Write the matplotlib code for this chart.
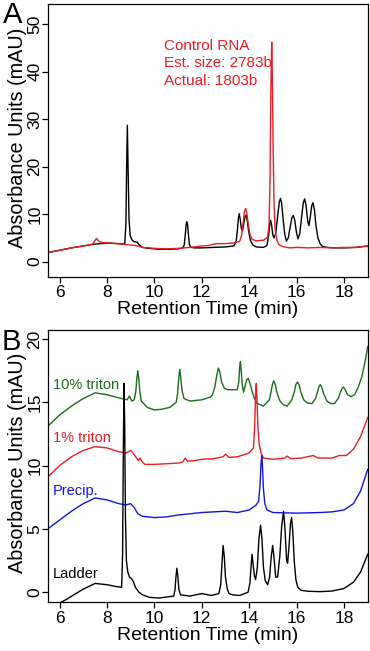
import matplotlib
matplotlib.use("Agg")
import matplotlib.pyplot as plt

plt.rcParams['font.family'] = ['Liberation Sans', 'DejaVu Sans']

# ---------------- Panel A data (retention time min, absorbance mAU) ----------
a_black_t = [5.5, 6.0, 6.5, 7.0, 7.5, 8.0, 8.5, 8.75, 8.80, 8.83, 8.86, 8.89, 8.93, 8.98,
             9.05, 9.15, 9.28, 9.35, 9.5, 9.8, 10.2, 10.6, 11.0, 11.2, 11.26, 11.31, 11.34,
             11.37, 11.40, 11.43, 11.48, 11.55, 11.7, 12.0, 12.5, 13.0, 13.35, 13.45, 13.5,
             13.55, 13.58, 13.62, 13.67, 13.71, 13.76, 13.82, 13.87, 13.92, 13.98, 14.05,
             14.15, 14.3, 14.6, 14.75, 14.82, 14.87, 14.91, 14.95, 15.0, 15.05, 15.12, 15.2,
             15.27, 15.32, 15.37, 15.43, 15.5, 15.57, 15.65, 15.73, 15.8, 15.86, 15.92, 15.99,
             16.06, 16.13, 16.2, 16.28, 16.34, 16.4, 16.47, 16.52, 16.58, 16.64, 16.69, 16.75,
             16.82, 16.9, 17.0, 17.1, 17.3, 17.6, 18.0, 18.5, 19.0]
a_black_v = [1.9, 2.4, 2.9, 3.3, 3.7, 3.9, 3.8, 3.7, 8.0, 20.0, 28.7, 20.0, 9.0, 5.5,
             4.6, 4.2, 4.1, 3.6, 3.0, 2.8, 2.6, 2.6, 2.7, 2.9, 3.5, 6.0, 7.8,
             8.4, 7.8, 6.0, 3.6, 3.0, 2.9, 2.9, 3.0, 3.1, 3.3, 4.2, 6.5,
             9.3, 10.1, 9.0, 7.0, 6.4, 7.6, 9.4, 9.8, 8.6, 6.3, 4.5,
             3.5, 3.1, 3.0, 3.4, 5.5, 8.0, 8.7, 7.5, 5.6, 5.0, 6.0, 9.5,
             12.5, 13.3, 12.3, 9.0, 5.8, 4.3, 5.0, 7.3, 9.2, 9.7, 8.8, 6.3,
             4.8, 5.8, 8.8, 12.3, 13.2, 11.8, 8.5, 7.6, 9.5, 11.8, 12.4, 11.0,
             7.5, 5.0, 3.7, 3.2, 3.0, 2.9, 2.9, 3.0, 3.3]

a_red_t = [5.5, 6.0, 6.5, 7.0, 7.4, 7.5, 7.56, 7.65, 7.8, 8.2, 8.6, 8.8, 9.2, 9.5, 10.0,
           10.5, 11.0, 11.5, 12.0, 12.3, 12.6, 13.0, 13.3, 13.6, 13.68, 13.74, 13.8, 13.85,
           13.9, 13.96, 14.03, 14.12, 14.3, 14.6, 14.78, 14.84, 14.88, 14.91, 14.95, 14.98,
           15.01, 15.05, 15.1, 15.17, 15.25, 15.4, 15.7, 16.0, 16.5, 17.0, 17.5, 18.0, 18.5, 19.0]
a_red_v = [1.9, 2.4, 2.9, 3.3, 3.7, 4.5, 4.9, 4.3, 4.0, 3.9, 3.7, 3.6, 3.4, 3.0, 2.8,
           2.7, 2.8, 3.0, 3.3, 3.4, 3.8, 3.8, 3.9, 4.3, 5.5, 8.0, 10.5, 11.2,
           10.3, 8.0, 5.8, 4.7, 4.4, 4.5, 5.2, 8.0, 18.0, 34.0, 46.2, 38.0,
           24.0, 12.0, 6.5, 4.5, 3.6, 3.2, 2.9, 3.0, 2.9, 3.0, 2.9, 3.0, 3.0, 3.3]

a_text = ["Control RNA", "Est. size: 2783b", "Actual: 1803b"]

# ---------------- Panel B data ------------------------------------------------
ladder_t = [6.05, 6.3, 6.6, 7.0, 7.5, 8.0, 8.4, 8.62, 8.66, 8.69, 8.72, 8.75, 8.78, 8.82,
            8.88, 8.95, 9.02, 9.1, 9.2, 9.35, 9.5, 9.8, 10.2, 10.6, 10.82, 10.87, 10.91,
            10.95, 10.99, 11.03, 11.1, 11.5, 12.0, 12.4, 12.72, 12.8, 12.85, 12.9, 12.95,
            13.0, 13.07, 13.15, 13.3, 13.6, 13.95, 14.03, 14.08, 14.12, 14.16, 14.22, 14.27,
            14.34, 14.41, 14.48, 14.54, 14.6, 14.68, 14.78, 14.86, 14.93, 14.99, 15.05, 15.12,
            15.2, 15.29, 15.37, 15.45, 15.51, 15.58, 15.62, 15.68, 15.74, 15.79, 15.84, 15.9,
            15.97, 16.05, 16.2, 16.5, 17.0, 17.5, 18.0, 18.4, 18.7, 19.0]
ladder_v = [-0.8, -0.55, -0.2, 0.25, 0.7, 0.6, 0.45, 0.4, 3.0, 11.0, 16.5, 13.0, 6.0, 2.5,
            1.6, 1.2, 1.1, 0.9, 0.4, 0.0, -0.2, -0.4, -0.45, -0.35, -0.3, 0.2, 1.2,
            1.9, 1.3, 0.3, -0.2, -0.3, -0.1, -0.25, -0.1, 0.6, 2.2, 3.7, 2.8,
            1.2, 0.3, -0.1, -0.2, -0.25, 0.0, 0.7, 2.0, 3.0, 2.3, 1.3, 1.0,
            1.9, 4.2, 5.3, 4.2, 2.0, 0.9, 0.6, 1.2, 2.8, 3.7, 2.7, 1.2,
            1.2, 2.8, 5.2, 6.4, 5.0, 2.5, 2.3, 3.6, 5.4, 5.9, 4.8, 2.5,
            1.0, 0.4, 0.15, 0.08, 0.05, 0.1, 0.3, 0.8, 1.6, 3.0]

precip_t = [5.5, 6.0, 6.5, 7.0, 7.5, 8.0, 8.5, 8.8, 9.0, 9.15, 9.3, 9.5, 10.0, 10.5, 11.0,
            11.5, 12.0, 13.0, 13.5, 14.0, 14.3, 14.4, 14.46, 14.5, 14.53, 14.56, 14.6,
            14.66, 14.75, 15.0, 16.0, 17.0, 17.5, 18.0, 18.4, 18.7, 19.0]
precip_v = [5.0, 5.7, 6.4, 7.0, 7.45, 7.3, 7.0, 6.9, 7.0, 6.7, 6.2, 6.0, 5.9, 5.95, 6.1,
            6.2, 6.3, 6.4, 6.3, 6.5, 6.9, 7.2, 8.5, 10.2, 10.8, 10.0, 8.2,
            7.0, 6.5, 6.3, 6.25, 6.3, 6.35, 6.5, 7.0, 8.0, 9.7]

triton1_t = [5.5, 6.0, 6.5, 7.0, 7.5, 8.0, 8.5, 8.8, 9.0, 9.1, 9.25, 9.32, 9.4, 9.48, 9.6,
             10.0, 10.5, 11.0, 11.2, 11.3, 11.4, 11.7, 12.0, 12.5, 12.9, 13.0, 13.15, 13.5,
             14.0, 14.18, 14.23, 14.27, 14.3, 14.33, 14.37, 14.42, 14.5, 14.6, 15.0, 15.5,
             15.6, 15.75, 16.2, 16.7, 16.9, 17.5, 17.8, 18.1, 18.4, 18.7, 19.0]
triton1_v = [9.1, 10.0, 10.7, 11.2, 11.5, 11.4, 11.1, 11.0, 11.2, 11.0, 10.6, 10.4, 10.6, 10.3, 10.1,
             10.1, 10.15, 10.2, 10.3, 10.6, 10.35, 10.4, 10.5, 10.55, 10.7, 10.9, 10.65, 10.7,
             11.0, 11.4, 13.0, 15.6, 16.5, 15.2, 13.0, 11.7, 11.0, 10.6, 10.5, 10.6,
             10.75, 10.55, 10.6, 10.8, 10.6, 10.6, 10.8, 10.8, 11.3, 12.3, 13.8]

triton10_t = [5.5, 6.0, 6.5, 7.0, 7.5, 8.0, 8.5, 8.85, 8.95, 9.05, 9.15, 9.22, 9.26, 9.3,
              9.34, 9.39, 9.45, 9.7, 10.0, 10.3, 10.65, 10.92, 10.98, 11.03, 11.07, 11.11,
              11.17, 11.25, 11.5, 12.0, 12.35, 12.45, 12.55, 12.63, 12.7, 12.76, 12.84, 12.95,
              13.1, 13.4, 13.5, 13.56, 13.6, 13.63, 13.66, 13.7, 13.76, 13.83, 13.9, 13.96,
              14.03, 14.12, 14.22, 14.35, 14.6, 14.85, 14.93, 14.99, 15.04, 15.1, 15.18, 15.3,
              15.45, 15.6, 15.8, 15.9, 15.97, 16.04, 16.1, 16.18, 16.3, 16.45, 16.65, 16.8,
              16.88, 16.94, 17.0, 17.06, 17.14, 17.28, 17.45, 17.6, 17.75, 17.85, 17.92, 17.98,
              18.05, 18.15, 18.3, 18.45, 18.6, 18.75, 18.9, 19.0]
triton10_v = [13.1, 14.0, 14.7, 15.3, 15.75, 15.6, 15.35, 15.2, 15.5, 15.1, 15.2, 15.9, 16.9, 17.5,
              16.9, 15.8, 15.1, 14.6, 14.4, 14.45, 14.6, 15.0, 15.7, 16.9, 17.6, 17.0,
              15.9, 15.3, 15.1, 15.2, 15.4, 15.6, 16.2, 17.1, 17.7, 17.4, 16.6, 16.1,
              16.0, 16.0, 16.0, 16.6, 17.8, 18.2, 17.6, 16.5, 15.8, 16.3, 16.8, 16.9,
              16.5, 15.9, 15.3, 14.9, 14.7, 15.2, 15.9, 16.5, 16.7, 16.4, 15.7, 15.1,
              14.8, 14.7, 15.2, 15.8, 16.4, 16.6, 16.4, 15.8, 15.2, 14.95, 14.9, 15.3,
              15.8, 16.2, 16.4, 16.2, 15.7, 15.1, 14.9, 14.9, 15.3, 15.8, 16.1, 16.2,
              16.0, 15.6, 15.45, 15.6, 16.2, 17.0, 18.3, 19.4]

b_labels = ["10% triton", "1% triton", "Precip.", "Ladder"]

x_ticks = [6, 8, 10, 12, 14, 16, 18]
a_yticks = [0, 10, 20, 30, 40, 50]
b_yticks = [0, 5, 10, 15, 20]

RED = "#ee1c24"
GREEN = "#1d6b1d"
BLUE = "#1414e6"
BLACK = "#000000"

W, H = 370, 651
fig = plt.figure(figsize=(W / 100, H / 100), dpi=100)


def px_axes(left, top, right, bottom):
    return fig.add_axes([left / W, 1 - bottom / H, (right - left) / W, (bottom - top) / H])


def style(ax, yticks, ylim):
    ax.set_xlim(5.5, 19)
    ax.set_ylim(*ylim)
    ax.set_xticks(x_ticks)
    ax.set_yticks(yticks)
    ax.tick_params(direction='out', length=4, width=0.9, labelsize=12.5, pad=2, colors='black')
    ax.tick_params(axis='y', pad=0)
    for lab in ax.get_yticklabels():
        lab.set_rotation(90)
        lab.set_va('center')
    for s in ax.spines.values():
        s.set_linewidth(0.9)
    ax.set_xlabel("Retention Time (min)", fontsize=14, va='center')
    ax.set_ylabel("Absorbance Units (mAU)", fontsize=14.3, va='center')


# Panel A
axA = px_axes(47.7, 4, 367.7, 276.7)
axA.plot(a_black_t, a_black_v, color=BLACK, lw=1.0)
axA.plot(a_red_t, a_red_v, color=RED, lw=1.0)
style(axA, a_yticks, (-3.16, 54.2))
axA.xaxis.set_label_coords(0.5, -0.122)
axA.yaxis.set_label_coords(-0.094, 0.51)
for txt, yv in zip(a_text, [45.4, 41.7, 38.1]):
    axA.text(10.39, yv, txt, color=RED, fontsize=11, ha='left', va='center')

# Panel B
axB = px_axes(47.7, 329.5, 367.7, 602.3)
axB.plot(triton10_t, triton10_v, color=GREEN, lw=1.0)
axB.plot(triton1_t, triton1_v, color=RED, lw=1.0)
axB.plot(precip_t, precip_v, color=BLUE, lw=1.0)
axB.plot(ladder_t, ladder_v, color=BLACK, lw=1.0)
style(axB, b_yticks, (-0.79, 20.75))
axB.xaxis.set_label_coords(0.5, -0.12)
axB.yaxis.set_label_coords(-0.094, 0.513)
for txt, yv, c in zip(b_labels, [16.37, 12.16, 8.02, 1.44], [GREEN, RED, BLUE, BLACK]):
    axB.text(5.73, yv, txt, color=c, fontsize=10.5, ha='left', va='center')

fig.text(2.5 / W, 1 - 23.3 / H, "A", fontsize=21, ha='left', va='baseline')
fig.text(1.5 / W, 1 - 350 / H, "B", fontsize=21, ha='left', va='baseline')

fig.savefig("out.png", dpi=100)
